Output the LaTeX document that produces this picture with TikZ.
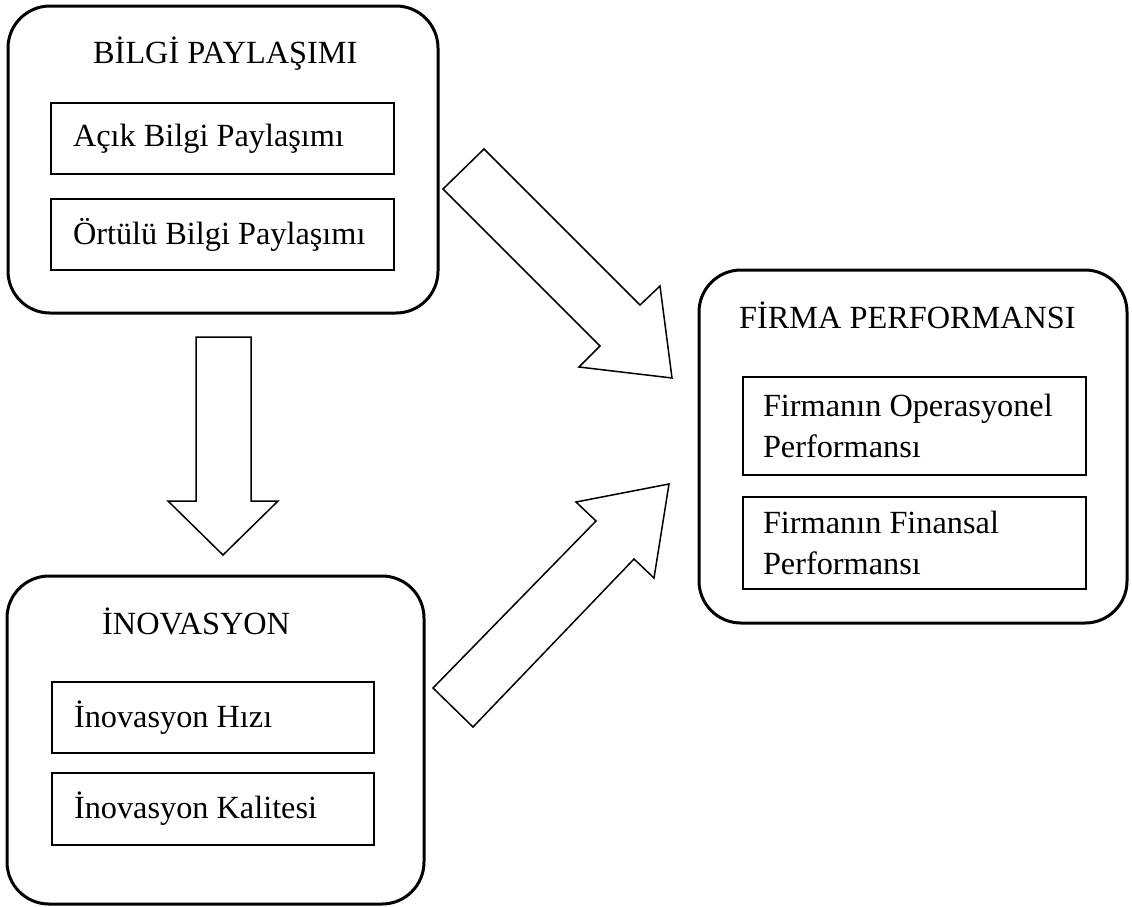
\documentclass[tikz,border=0pt]{standalone}
\usepackage{fontspec}
\setmainfont{Liberation Serif}
\usetikzlibrary{positioning}

\tikzset{
  outerbox/.style={draw, line width=3pt, rounded corners=42pt, inner sep=0pt},
  innerbox/.style={draw, line width=1.3pt, inner xsep=22pt, inner ysep=0pt, align=left,
    text width=299pt, font=\fontsize{32.3}{41}\selectfont,
    execute at begin node={\spaceskip=0pt\xspaceskip=0pt}},
  title/.style={inner sep=0pt, anchor=base west, font=\fontsize{32.3}{41}\selectfont},
  blockarrow/.style={draw, line width=1.5pt, line join=miter}
}

\begin{document}
\begin{tikzpicture}[x=1pt, y=-1pt]
  \useasboundingbox (0,0) rectangle (1132,906);

  % outer boxes
  \node[outerbox, minimum width=430pt, minimum height=307pt] (bilgi) at (223,159.5) {};
  \node[outerbox, minimum width=417pt, minimum height=328pt] (inovasyon) at (215.5,740) {};
  \node[outerbox, minimum width=428pt, minimum height=353pt] (firma) at (913,446.5) {};

  % titles
  \node[title] (bilgit) at (93,63) {BİLGİ PAYLAŞIMI};
  \node[title] (inovasyont) at (102,634) {İNOVASYON};
  \node[title] (firmat) at (739,328) {FİRMA PERFORMANSI};

  % inner boxes
  \node[innerbox, minimum height=71pt] (acik) at (222.5,138.5) {Açık Bilgi Paylaşımı};
  \node[innerbox, minimum height=71pt] (ortulu) at (222.5,234.5) {Örtülü Bilgi Paylaşımı};
  \node[innerbox, minimum height=71pt, text width=278pt] (hiz) at (213,717.5) {İnovasyon Hızı};
  \node[innerbox, minimum height=72pt, text width=278pt] (kalite) at (213,809) {İnovasyon Kalitesi};
  \node[innerbox, minimum height=98pt, inner xsep=20pt, text width=303pt] (operasyonel) at (914.5,426)
    {Firmanın Operasyonel\\Performansı};
  \node[innerbox, minimum height=92pt, inner xsep=20pt, text width=303pt] (finansal) at (914.5,543)
    {Firmanın Finansal\\Performansı};

  % block arrows
  \draw[blockarrow] (196,337) -- (251,337) -- (251,501) -- (278,501) -- (223,555)
    -- (168,501) -- (196,501) -- cycle;
  \draw[blockarrow] (484,149) -- (640,305) -- (660,286) -- (672,378) -- (579,367)
    -- (600,346) -- (443,189) -- cycle;
  \draw[blockarrow] (433,688) -- (596,521) -- (576,502) -- (669,484) -- (654,578)
    -- (634,559) -- (473,727) -- cycle;
\end{tikzpicture}
\end{document}
